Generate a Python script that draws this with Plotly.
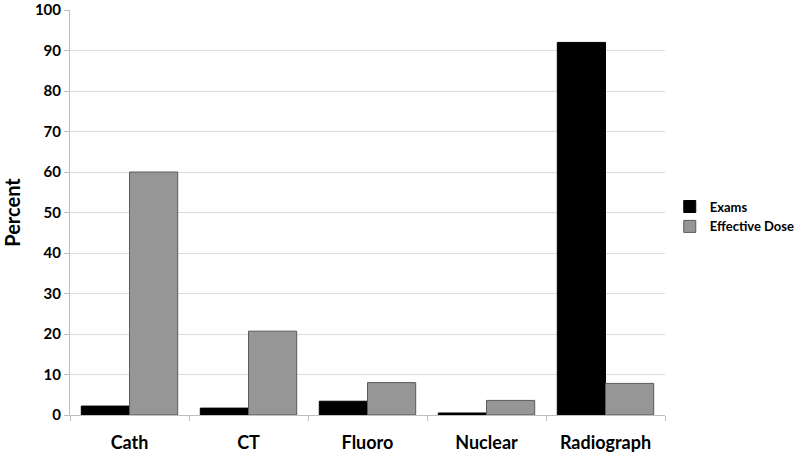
import plotly.graph_objects as go

categories = ["Cath", "CT", "Fluoro", "Nuclear", "Radiograph"]
exams = [2.2, 1.7, 3.4, 0.5, 92.0]
effective_dose = [60.0, 20.7, 8.0, 3.6, 7.8]
y_ticks = [0, 10, 20, 30, 40, 50, 60, 70, 80, 90, 100]

FONT = "Lato"

fig = go.Figure()
fig.add_trace(go.Bar(x=categories, y=exams, name="Exams",
                     marker=dict(color="#000000", line=dict(color="#000000", width=1))))
fig.add_trace(go.Bar(x=categories, y=effective_dose, name="Effective Dose",
                     marker=dict(color="#969696", line=dict(color="#5a5a5a", width=1))))

fig.update_layout(
    width=800, height=459,
    margin=dict(l=70, r=135, t=10, b=44, autoexpand=False),
    paper_bgcolor="white", plot_bgcolor="white",
    barmode="group", bargap=0.19, bargroupgap=0,
    font=dict(family=FONT, color="#000000"),
    legend=dict(x=1.008, y=0.49, xanchor="left", yanchor="middle",
                font=dict(family=FONT, size=13, color="#000", weight="bold"),
                tracegroupgap=3),
    showlegend=True,
)
fig.update_xaxes(
    showline=True, linecolor="#bfbfbf", linewidth=1,
    ticks="outside", tickson="boundaries", ticklen=5, tickcolor="#bfbfbf",
    tickfont=dict(family=FONT, size=18, color="#000", weight="bold"),
    ticklabelstandoff=11, showgrid=False,
)
fig.update_yaxes(
    range=[0, 100], tickvals=y_ticks,
    showline=True, linecolor="#bfbfbf", linewidth=1,
    ticks="outside", ticklen=5, tickcolor="#bfbfbf",
    showgrid=True, gridcolor="#dcdcdc", gridwidth=1,
    tickfont=dict(family=FONT, size=15, color="#000", weight="bold"),
    ticklabeloverflow="allow",
    title=dict(text="Percent", font=dict(family=FONT, size=20, color="#000", weight="bold"), standoff=14),
    zeroline=False,
)

fig.write_html("out.html", config={"displayModeBar": False},
               post_script="document.body.style.margin='0';")
